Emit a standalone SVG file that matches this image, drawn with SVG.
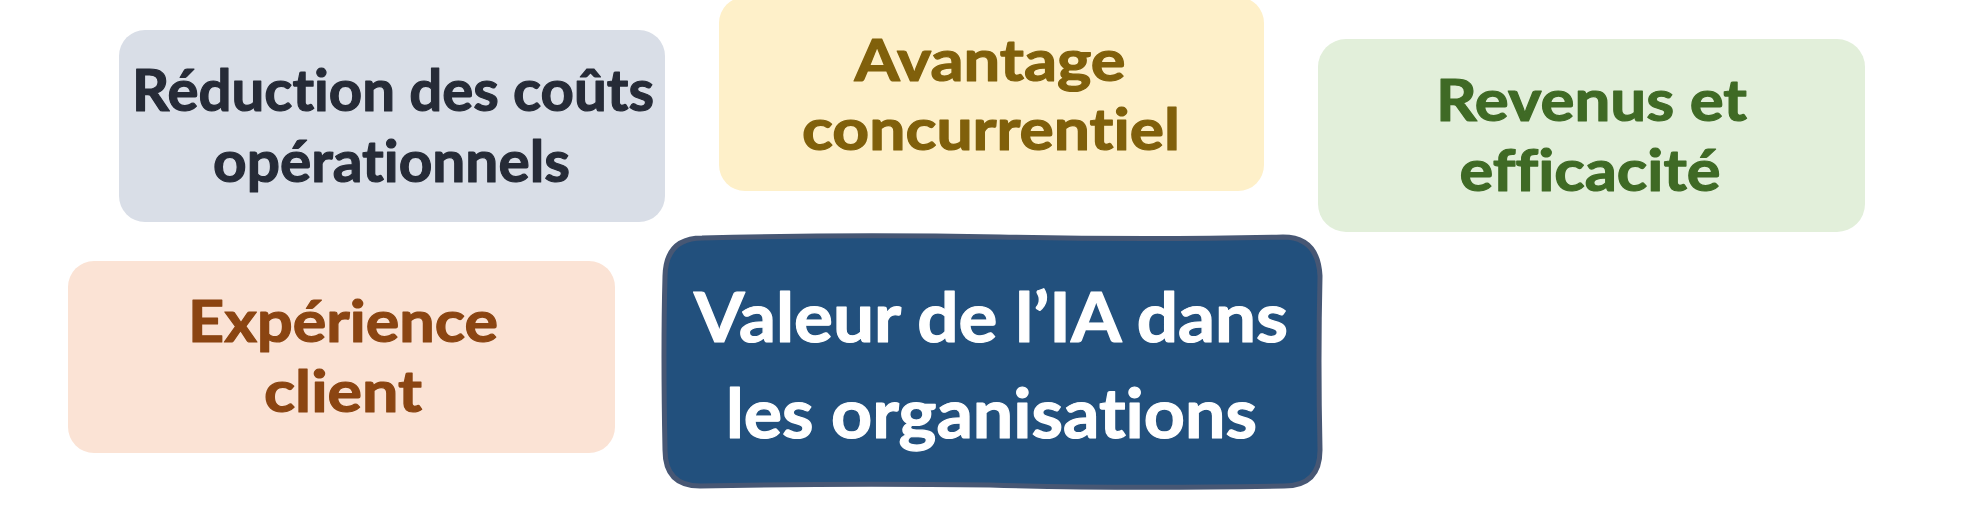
<svg xmlns="http://www.w3.org/2000/svg" width="1969" height="528" viewBox="0 0 1969 528">
  <style>
    .lbl { font-family: "Lato", "Open Sans", "Liberation Sans", sans-serif; font-weight: 700; text-anchor: middle; font-variant-ligatures: none; font-feature-settings: "liga" 0, "clig" 0, "dlig" 0; stroke-width: 1.2; stroke-linejoin: round; }
    .box { stroke: none; }
  </style>
  <rect x="0" y="0" width="1969" height="528" fill="#ffffff"/>
  <g id="connectors"></g>

  <g id="node-reduction">
    <rect class="box" x="119" y="30" width="546" height="192" rx="26" fill="#D9DEE7"/>
    <text class="lbl" x="393" y="111" font-size="58" fill="#262B37" stroke="#262B37" textLength="522" lengthAdjust="spacingAndGlyphs">Réduction des coûts</text>
    <text class="lbl" x="391.5" y="182" font-size="58" fill="#262B37" stroke="#262B37" textLength="357" lengthAdjust="spacingAndGlyphs">opérationnels</text>
  </g>

  <g id="node-avantage">
    <rect class="box" x="719" y="-3" width="545" height="194" rx="26" fill="#FEF0C9"/>
    <text class="lbl" x="990" y="81" font-size="57" fill="#80600B" stroke="#80600B" textLength="271" lengthAdjust="spacingAndGlyphs">Avantage</text>
    <text class="lbl" x="991" y="150" font-size="57" fill="#80600B" stroke="#80600B" textLength="378" lengthAdjust="spacingAndGlyphs">concurrentiel</text>
  </g>

  <g id="node-revenus">
    <rect class="box" x="1318" y="39" width="547" height="193" rx="28" fill="#E2EFDA"/>
    <text class="lbl" x="1591.5" y="121" font-size="58" fill="#3F6A25" stroke="#3F6A25" textLength="311" lengthAdjust="spacingAndGlyphs">Revenus et</text>
    <text class="lbl" x="1590" y="191" font-size="58" fill="#3F6A25" stroke="#3F6A25" textLength="261" lengthAdjust="spacingAndGlyphs">efficacité</text>
  </g>

  <g id="node-experience">
    <rect class="box" x="68" y="261" width="547" height="192" rx="26" fill="#FBE3D5"/>
    <text class="lbl" x="343" y="342" font-size="58" fill="#8B4512" stroke="#8B4512" textLength="310" lengthAdjust="spacingAndGlyphs">Expérience</text>
    <text class="lbl" x="343" y="412" font-size="58" fill="#8B4512" stroke="#8B4512" textLength="158" lengthAdjust="spacingAndGlyphs">client</text>
  </g>

  <g id="node-valeur">
    <path d="M 702,238 Q 850,234 1000,237 Q 1150,240 1283,237 Q 1318,237 1320,276 Q 1318,360 1320,450 Q 1320,486 1284,486 Q 1120,489 990,485 Q 840,483 700,486 Q 665,486 665,450 Q 663,350 665,276 Q 666,238 702,238 Z" fill="#22507D" stroke="#475774" stroke-width="5" stroke-linejoin="round"/>
    <text class="lbl" x="991" y="342" font-size="68" fill="#FFFFFF" stroke="#FFFFFF" textLength="594" lengthAdjust="spacingAndGlyphs">Valeur de l’IA dans</text>
    <text class="lbl" x="991.5" y="438" font-size="68" fill="#FFFFFF" stroke="#FFFFFF" textLength="531" lengthAdjust="spacingAndGlyphs">les organisations</text>
  </g>
</svg>
